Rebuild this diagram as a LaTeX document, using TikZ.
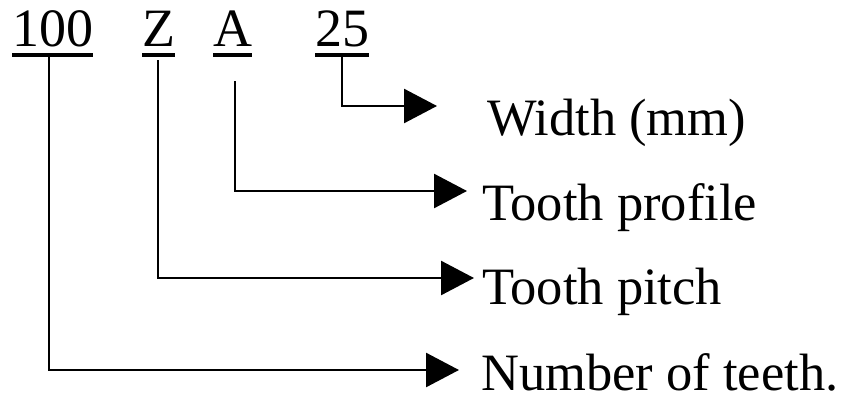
\documentclass[tikz,border=0pt]{standalone}
\usepackage{fontspec}
\setmainfont{Liberation Serif}
\usetikzlibrary{arrows.meta}

\begin{document}
\begin{tikzpicture}[x=1pt, y=-1pt,
        code/.style={anchor=base west, inner sep=0pt, font=\fontsize{54}{60}\selectfont},
        desc/.style={anchor=base west, inner sep=0pt, font=\fontsize{52.5}{60}\selectfont},
        uline/.style={line width=3pt},
        lead/.style={line width=2.6pt, -{Triangle[length=33pt, width=34pt]}}
    ]
        \useasboundingbox (0,0) rectangle (842,396);

        % Code parts
        \node[code] (n100) at (12,47) {100};
        \node[code] (nz) at (142,47) {Z};
        \node[code] (na) at (213,47) {A};
        \node[code] (n25) at (315,47) {25};

        % Underlines
        \foreach \n in {n100, nz, na, n25}
            \draw[uline] ([yshift=-8pt]\n.base west) -- ([yshift=-8pt]\n.base east);

        % Meanings
        \node[desc] (dwidth) at (487,135) {Width (mm)};
        \node[desc] (dprofile) at (482,220) {Tooth profile};
        \node[desc] (dpitch) at (482,304) {Tooth pitch};
        \node[desc] (dteeth) at (481,390) {Number of teeth.};

        % Leaders
        \coordinate (s25) at (342,55);
        \coordinate (e25) at (437,106);
        \coordinate (sa) at (235,81);
        \coordinate (ea) at (467,191);
        \coordinate (sz) at (158,60);
        \coordinate (ez) at (474,278);
        \coordinate (s100) at (49,56);
        \coordinate (e100) at (459,370);

        \draw[lead] (s25) |- (e25);
        \draw[lead] (sa) |- (ea);
        \draw[lead] (sz) |- (ez);
        \draw[lead] (s100) |- (e100);
    \end{tikzpicture}
\end{document}
